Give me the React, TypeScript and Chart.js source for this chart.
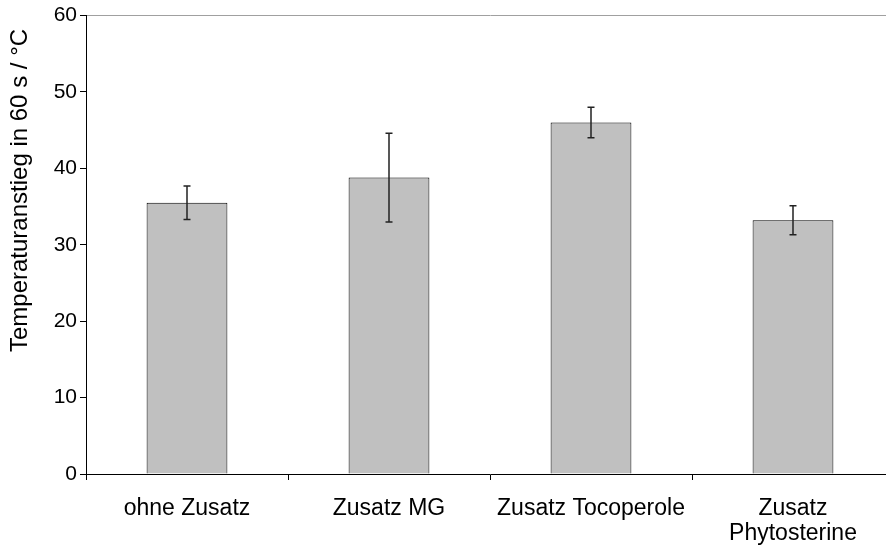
import React, { useEffect, useRef } from "react";
import { Chart, registerables } from "chart.js";
Chart.register(...registerables);

const categories: string[][] = [["ohne Zusatz"], ["Zusatz MG"], ["Zusatz Tocoperole"], ["Zusatz", "Phytosterine"]];
const means = [35.5, 38.8, 46.0, 33.2];
const errors = [2.2, 5.8, 2.0, 1.9];
const yTitle = "Temperaturanstieg in 60 s / °C";

const FONT = "'Liberation Sans', Arial, sans-serif";

const errorBarPlugin = {
  id: "errorBars",
  afterDatasetsDraw(chart: any) {
    const { ctx } = chart;
    const y = chart.scales.y;
    const meta = chart.getDatasetMeta(0);
    ctx.save();
    ctx.strokeStyle = "#222";
    ctx.lineWidth = 1.5;
    meta.data.forEach((bar: any, i: number) => {
      const cx = Math.round(bar.x);
      const top = y.getPixelForValue(means[i] + errors[i]);
      const bot = y.getPixelForValue(means[i] - errors[i]);
      ctx.beginPath();
      ctx.moveTo(cx, top);
      ctx.lineTo(cx, bot);
      ctx.moveTo(cx - 3.5, top);
      ctx.lineTo(cx + 3.5, top);
      ctx.moveTo(cx - 3.5, bot);
      ctx.lineTo(cx + 3.5, bot);
      ctx.stroke();
    });
    ctx.restore();
  },
};

export default function App() {
  const ref = useRef<HTMLCanvasElement>(null);
  useEffect(() => {
    if (!ref.current) return;
    const chart = new Chart(ref.current, {
      type: "bar",
      data: {
        labels: categories as any,
        datasets: [
          {
            data: means,
            backgroundColor: "#c0c0c0",
            borderColor: "#000",
            borderWidth: 1,
            categoryPercentage: 1,
            barPercentage: 0.4,
          },
        ],
      },
      options: {
        responsive: false,
        animation: false,
        devicePixelRatio: 1,
        layout: { padding: { top: 15, right: 6, left: 0, bottom: 0 } },
        plugins: { legend: { display: false }, tooltip: { enabled: false } },
        scales: {
          x: {
            offset: true,
            grid: {
              offset: true,
              drawOnChartArea: false,
              color: "#000",
              tickColor: "#000",
              tickLength: 6,
            },
            border: { display: true, color: "#000", width: 1 },
            ticks: {
              color: "#000",
              font: { family: FONT, size: 23, lineHeight: 1.05 },
              padding: 17,
              maxRotation: 0,
              autoSkip: false,
            },
            afterFit(scale: any) {
              scale.height = 72;
            },
          },
          y: {
            min: 0,
            max: 60,
            grid: {
              color: (c: any) => (c.tick && c.tick.value === 60 ? "#a0a0a0" : "rgba(0,0,0,0)"),
              tickColor: "#000",
              tickLength: 6,
            },
            border: { display: true, color: "#000", width: 1 },
            ticks: {
              stepSize: 10,
              color: "#000",
              font: { family: FONT, size: 21 },
              padding: 3,
            },
            title: {
              display: true,
              text: yTitle + "  ",
              align: "end",
              color: "#000",
              font: { family: FONT, size: 24 },
              padding: { top: 6, bottom: 0 },
            },
            afterFit(scale: any) {
              scale.width = 86;
            },
          },
        },
      },
      plugins: [errorBarPlugin],
    });
    return () => chart.destroy();
  }, []);
  return (
    <div style={{ position: "fixed", left: 0, top: 0, width: 886, height: 546, overflow: "hidden", background: "#fff" }}>
      <canvas ref={ref} width={900} height={546} style={{ display: "block" }} />
    </div>
  );
}
